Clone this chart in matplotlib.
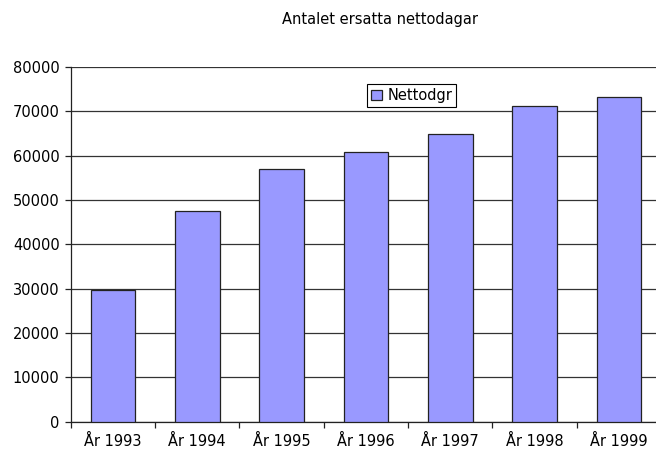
import matplotlib
matplotlib.use("Agg")
import matplotlib.pyplot as plt
import numpy as np

# the reference text is wide, DejaVu matches its proportions best
plt.rcParams['font.family'] = ['DejaVu Sans']

years = ['År 1993', 'År 1994', 'År 1995', 'År 1996', 'År 1997', 'År 1998', 'År 1999']
nettodgr = [29800, 47500, 56900, 60900, 65000, 71300, 73200]
yticks = [0, 10000, 20000, 30000, 40000, 50000, 60000, 70000, 80000]

fig = plt.figure(figsize=(6.56, 4.53), dpi=100)
# plot area runs slightly past the right edge, as in the original crop
ax = fig.add_axes([0.1078, 0.0691, 0.900, 0.783])

x = np.arange(len(years))
ax.bar(x, nettodgr, width=0.53, color='#9999ff', edgecolor='#222222',
       linewidth=0.9, label='Nettodgr', zorder=3)

ax.set_xlim(-0.5, len(years) - 0.5)
ax.set_ylim(0, 80000)
ax.set_yticks(yticks)
ax.set_yticklabels([str(v) for v in yticks], fontsize=10.5)
ax.yaxis.grid(True, color='#333333', linewidth=0.9, zorder=0)

ax.set_xticks(x)
ax.set_xticklabels(years, fontsize=10.5)
ax.set_xticks(np.arange(-0.5, len(years)), minor=True)
ax.tick_params(axis='x', which='major', length=0, pad=9)
ax.tick_params(axis='x', which='minor', length=4, width=0.9, direction='out', color='#222222')
ax.tick_params(axis='y', length=4, width=0.9, direction='out', color='#222222', pad=4)

for s in ['top', 'right']:
    ax.spines[s].set_visible(False)
for s in ['left', 'bottom']:
    ax.spines[s].set_color('#222222')
    ax.spines[s].set_linewidth(0.9)

fig.text(0.579, 0.956, 'Antalet ersatta nettodagar', ha='center', va='center', fontsize=10.5)

leg = fig.legend(loc='upper left', bbox_to_anchor=(0.560, 0.8146), fontsize=10.5,
                 fancybox=False, edgecolor='black', framealpha=1,
                 handlelength=0.75, handleheight=0.75, handletextpad=0.35,
                 borderpad=0.28, borderaxespad=0)
leg.get_frame().set_linewidth(0.8)

fig.savefig('out.png', dpi=100)
